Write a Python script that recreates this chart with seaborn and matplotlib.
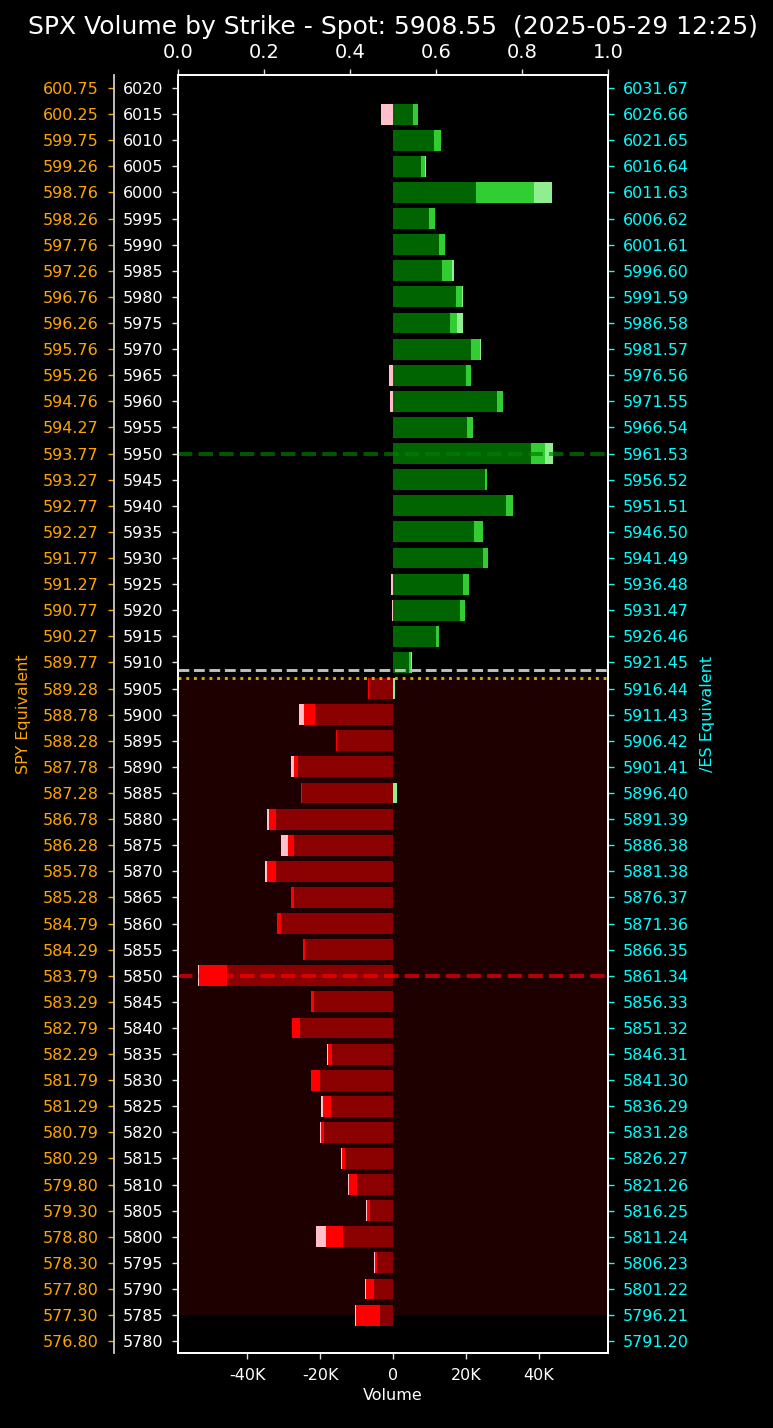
import numpy as np
import pandas as pd
import matplotlib
matplotlib.use("Agg")
import matplotlib.pyplot as plt
import seaborn as sns
from matplotlib.ticker import FuncFormatter, MultipleLocator

# ---------------- data (volumes in thousands of contracts) ----------------
strikes = [6020, 6015, 6010, 6005, 6000, 5995, 5990, 5985, 5980, 5975, 5970, 5965,
           5960, 5955, 5950, 5945, 5940, 5935, 5930, 5925, 5920, 5915, 5910, 5905,
           5900, 5895, 5890, 5885, 5880, 5875, 5870, 5865, 5860, 5855, 5850, 5845,
           5840, 5835, 5830, 5825, 5820, 5815, 5810, 5805, 5800, 5795, 5790, 5785, 5780]

call_vol_a = [0, 5.5, 11.25, 7.7, 22.8, 9.9, 12.6, 13.45, 17.3, 15.6, 21.4, 20.0,
              28.5, 20.3, 37.9, 25.25, 31.0, 22.2, 24.7, 19.2, 18.4, 11.8, 4.4, 0,
              0, 0, 0, 0, 0, 0, 0, 0, 0, 0, 0, 0,
              0, 0, 0, 0, 0, 0, 0, 0, 0, 0, 0, 0, 0]
call_vol_b = [0, 1.4, 1.9, 1.1, 15.9, 1.65, 1.65, 2.75, 1.65, 1.9, 2.5, 1.4,
              1.65, 1.65, 3.85, 0.55, 1.9, 2.5, 1.4, 1.65, 1.4, 0.8, 0.55, 0,
              0, 0, 0, 0, 0, 0, 0, 0, 0, 0, 0, 0,
              0, 0, 0, 0, 0, 0, 0, 0, 0, 0, 0, 0, 0]
call_vol_c = [0, 0, 0, 0.3, 4.9, 0, 0, 0.55, 0.3, 1.65, 0.3, 0,
              0, 0, 2.2, 0, 0, 0, 0, 0, 0, 0, 0.3, 0.5,
              0, 0, 0, 1.1, 0, 0, 0, 0, 0, 0, 0, 0,
              0, 0, 0, 0, 0, 0, 0, 0, 0, 0, 0, 0, 0]
put_vol_a = [0, 0, 0, 0, 0, 0, 0, 0, 0, 0, 0, 0,
             0, 0, 0, 0, 0, 0, 0, 0, 0, 0, 0, 6.6,
             21.4, 15.4, 26.1, 25.0, 32.1, 27.2, 32.1, 27.2, 30.7, 24.2, 45.6, 21.7,
             25.5, 16.7, 20.0, 17.0, 18.9, 13.2, 9.9, 6.3, 13.7, 4.4, 5.2, 3.6, 0]
put_vol_b = [0, 0, 0, 0, 0, 0, 0, 0, 0, 0, 0, 0,
             0, 0, 0, 0, 0, 0, 0, 0, 0, 0, 0, 0.2,
             3.0, 0.1, 1.1, 0.3, 1.9, 1.65, 2.5, 0.8, 1.1, 0.55, 7.7, 0.8,
             2.2, 1.1, 2.5, 2.2, 0.8, 0.8, 2.2, 0.8, 4.7, 0.55, 2.2, 6.6, 0]
put_vol_c = [0, 3.3, 0, 0, 0, 0, 0, 0, 0, 0, 0, 1.1,
             0.8, 0, 0, 0, 0, 0, 0, 0.55, 0.3, 0, 0, 0,
             1.4, 0, 0.8, 0, 0.55, 1.9, 0.55, 0, 0, 0, 0.3, 0,
             0, 0.3, 0, 0.55, 0.3, 0.3, 0.3, 0.3, 2.75, 0.3, 0.3, 0.3, 0]

spy_labels = ["600.75", "600.25", "599.75", "599.26", "598.76", "598.26", "597.76",
              "597.26", "596.76", "596.26", "595.76", "595.26", "594.76", "594.27",
              "593.77", "593.27", "592.77", "592.27", "591.77", "591.27", "590.77",
              "590.27", "589.77", "589.28", "588.78", "588.28", "587.78", "587.28",
              "586.78", "586.28", "585.78", "585.28", "584.79", "584.29", "583.79",
              "583.29", "582.79", "582.29", "581.79", "581.29", "580.79", "580.29",
              "579.80", "579.30", "578.80", "578.30", "577.80", "577.30", "576.80"]
es_labels = ["6031.67", "6026.66", "6021.65", "6016.64", "6011.63", "6006.62", "6001.61",
             "5996.60", "5991.59", "5986.58", "5981.57", "5976.56", "5971.55", "5966.54",
             "5961.53", "5956.52", "5951.51", "5946.50", "5941.49", "5936.48", "5931.47",
             "5926.46", "5921.45", "5916.44", "5911.43", "5906.42", "5901.41", "5896.40",
             "5891.39", "5886.38", "5881.38", "5876.37", "5871.36", "5866.35", "5861.34",
             "5856.33", "5851.32", "5846.31", "5841.30", "5836.29", "5831.28", "5826.27",
             "5821.26", "5816.25", "5811.24", "5806.23", "5801.22", "5796.21", "5791.20"]

spot = 5908.55
flip_level = 5907.1
call_wall = 5950
put_wall = 5850
shade_low = 5785
title = "SPX Volume by Strike - Spot: 5908.55  (2025-05-29 12:25)"

# ---------------- table ----------------
k = 1000.0
df = pd.DataFrame({"strike": strikes})
ca, cb, cc = (np.array(v) * k for v in (call_vol_a, call_vol_b, call_vol_c))
pa, pb, pc = (np.array(v) * k for v in (put_vol_a, put_vol_b, put_vol_c))
df["c1"] = ca
df["c2"] = ca + cb
df["c3"] = ca + cb + cc
df["p1"] = -pa
df["p2"] = -(pa + pb)
df["p3"] = -(pa + pb + pc)

# ---------------- figure ----------------
plt.style.use("dark_background")
DPI = 100
fig = plt.figure(figsize=(773 / DPI, 1428 / DPI), dpi=DPI, facecolor="black")
ax = fig.add_axes([178 / 773, 1 - 1353 / 1428, 430 / 773, 1278 / 1428])
ax.set_facecolor("black")

FS = 11.5
TL = 4.2
PAD = 6.5

ax.axhspan(shade_low, flip_level, color="red", alpha=0.12, lw=0, zorder=0)

layers = [("c3", "lightgreen"), ("c2", "limegreen"), ("c1", "#006400"),
          ("p3", "pink"), ("p2", "red"), ("p1", "#8B0000")]
for col, colr in layers:
    sns.barplot(data=df, x=col, y="strike", orient="h", native_scale=True,
                color=colr, saturation=1, errorbar=None, linewidth=0, ax=ax,
                zorder=2)

ax.axhline(call_wall, color="green", alpha=0.7, ls="--", lw=2.8, zorder=5)
ax.axhline(put_wall, color="red", alpha=0.7, ls="--", lw=2.8, zorder=5)
ax.axhline(spot, color="silver", ls="--", lw=2.1, zorder=5)
ax.axhline(flip_level, color="gold", alpha=0.8, ls=":", lw=2.1, zorder=5)

xmax = max(df["c3"].max(), -df["p3"].min()) * 1.1
ax.set_xlim(-xmax, xmax)
ylim = (min(strikes) - 2.25, max(strikes) + 2.5)
ax.set_ylim(*ylim)
ax.xaxis.set_major_locator(MultipleLocator(20000))
ax.xaxis.set_major_formatter(FuncFormatter(lambda v, p: "0" if v == 0 else f"{v / 1000:.0f}K"))
ax.set_yticks(strikes)
ax.set_yticklabels([str(s) for s in strikes])
ax.set_ylabel("")
ax.set_xlabel("Volume", fontsize=FS, color="white")
ax.tick_params(axis="both", labelsize=FS, length=TL, width=1.0, pad=PAD,
               colors="#dddddd", labelcolor="white")
for sp in ax.spines.values():
    sp.set_color("white")
    sp.set_linewidth(1.3)

# top twin (0..1)
ax_top = ax.twiny()
ax_top.set_xlim(0, 1)
ax_top.tick_params(axis="x", labelsize=14, length=TL, width=1.0, pad=5.5,
                   colors="#dddddd", labelcolor="white")
for sp in ax_top.spines.values():
    sp.set_color("white")
    sp.set_linewidth(1.3)

# left SPY equivalent axis
ax_spy = ax.twinx()
ax_spy.set_ylim(*ylim)
ax_spy.yaxis.set_ticks_position("left")
ax_spy.yaxis.set_label_position("left")
ax_spy.spines["left"].set_position(("outward", 64.5 * 72 / DPI))
ax_spy.spines["left"].set_visible(True)
ax_spy.spines["left"].set_color("#cccccc")
ax_spy.spines["left"].set_linewidth(1.3)
for s in ("right", "top", "bottom"):
    ax_spy.spines[s].set_visible(False)
ax_spy.set_yticks(strikes)
ax_spy.set_yticklabels(spy_labels)
ax_spy.tick_params(axis="y", labelsize=FS, length=TL, width=1.0, pad=PAD,
                   colors="orange", labelcolor="orange")
ax_spy.set_ylabel("SPY Equivalent", color="orange", fontsize=FS, labelpad=8)

# right /ES equivalent axis
ax_es = ax.twinx()
ax_es.set_ylim(*ylim)
ax_es.set_yticks(strikes)
ax_es.set_yticklabels(es_labels)
ax_es.tick_params(axis="y", labelsize=FS, length=TL, width=1.0, pad=PAD,
                  colors="cyan", labelcolor="cyan")
for s in ("left", "top", "bottom"):
    ax_es.spines[s].set_visible(False)
ax_es.spines["right"].set_color("white")
ax_es.spines["right"].set_linewidth(1.3)
ax_es.set_ylabel("/ES Equivalent", color="cyan", fontsize=FS, labelpad=8)

ax.set_title(title, fontsize=18, color="white", pad=6)

fig.savefig("out.png", dpi=DPI, facecolor="black")
